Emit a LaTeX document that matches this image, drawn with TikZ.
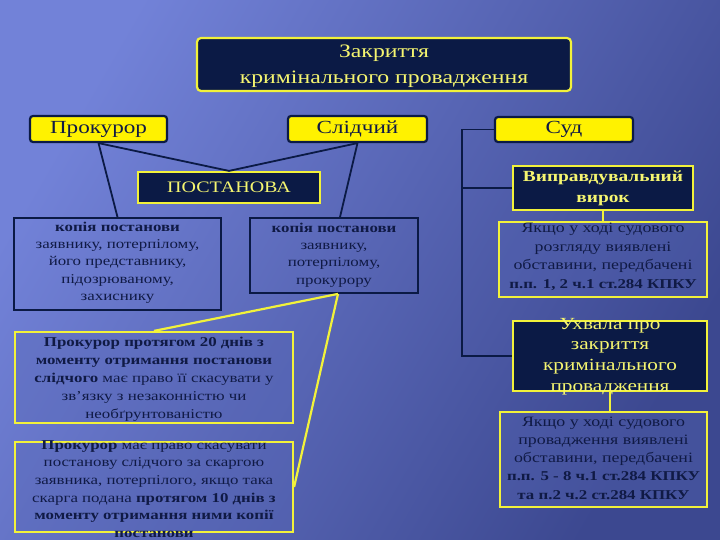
\documentclass[tikz,border=0pt]{standalone}
\usepackage{fontspec}
\setmainfont[FakeStretch=1.25]{Liberation Serif}
\definecolor{bgL}{HTML}{7282D8}
\definecolor{bgM}{HTML}{5564B6}
\definecolor{bgR}{HTML}{3C4890}
\definecolor{boxf}{HTML}{5565B5}
\definecolor{navy}{HTML}{0B1A45}
\definecolor{ink}{HTML}{101A45}
\definecolor{ylw}{HTML}{F2F23A}
\definecolor{ytext}{HTML}{F5F570}
\newcommand\fixtxt[3][0pt]{\smash{\raisebox{\dimexpr-4.5pt+#1\relax}{\makebox[0pt]{\smash{\parbox[c]{#2}{\centering #3}}}}}}
\begin{document}
\begin{tikzpicture}[x=1pt,y=-1pt,
  darkbox/.style={draw=ylw, line width=2.2pt, fill=navy, text=ytext, inner sep=0pt},
  ylwbox/.style={draw=navy, line width=2.2pt, fill=yellow, text=ink, rounded corners=3pt, inner sep=0pt},
  txtbox/.style={draw=ylw, line width=2.2pt, fill=boxf, fill opacity=0.35, text opacity=1, text=ink, inner sep=0pt},
  navybox/.style={draw=navy, line width=1.8pt, text=ink, inner sep=0pt},
  navyline/.style={draw=navy, line width=1.8pt},
  ylwline/.style={draw=ylw, line width=2.2pt}]
\useasboundingbox (0,0) rectangle (720,540);
\shade[left color=bgL, middle color=bgM, right color=bgR, shading angle=60] (0,0) rectangle (720,540);

% title
\node[darkbox, rounded corners=4pt, minimum width=374, minimum height=53] (title) at (384,64.5)
  {\fixtxt{370pt}{\fontsize{19}{26}\selectfont Закриття\\ кримінального провадження}};

% top row
\node[ylwbox, minimum width=137, minimum height=26] (prok) at (98.5,129) {\fontsize{18.5}{20}\selectfont Прокурор};
\node[ylwbox, minimum width=139, minimum height=26] (slid) at (357.5,129) {\fontsize{18.5}{20}\selectfont Слідчий};
\node[ylwbox, minimum width=138, minimum height=25] (sud) at (564,129.5) {\fontsize{18.5}{20}\selectfont Суд};

\node[darkbox, minimum width=182, minimum height=31] (post) at (229,187.5) {\fontsize{16}{18}\selectfont ПОСТАНОВА};

\node[navybox, minimum width=207, minimum height=92] (kop1) at (117.5,264)
  {\fixtxt[3.5pt]{230pt}{\fontsize{13.5}{17.3}\selectfont\textbf{копія постанови}\\ заявнику, потерпілому,\\ його представнику,\\ підозрюваному,\\ захиснику}};
\node[navybox, minimum width=168, minimum height=75] (kop2) at (334,255.5)
  {\fixtxt[2.5pt]{200pt}{\fontsize{13.5}{17.3}\selectfont\textbf{копія постанови}\\ заявнику,\\ потерпілому,\\ прокурору}};

\node[txtbox, minimum width=278, minimum height=91] (pr20) at (154,377.5)
  {\fixtxt{300pt}{\fontsize{13.5}{18}\selectfont\textbf{Прокурор протягом 20 днів з}\\ \textbf{моменту отримання постанови}\\ \textbf{слідчого} має право її скасувати у\\ зв'язку з незаконністю чи\\ необґрунтованістю}};
\node[txtbox, minimum width=278, minimum height=90] (pr10) at (154,487)
  {\fixtxt{300pt}{\fontsize{13.5}{17.6}\selectfont\textbf{Прокурор} має право скасувати\\ постанову слідчого за скаргою\\ заявника, потерпілого, якщо така\\ скарга подана \textbf{протягом 10 днів з}\\ \textbf{моменту отримання ними копії}\\ \textbf{постанови}}};

% right column
\node[darkbox, minimum width=180, minimum height=44] (vypr) at (603,188)
  {\fixtxt[2pt]{200pt}{\fontsize{15.5}{21}\selectfont\textbf{Виправдувальний}\\ \textbf{вирок}}};
\node[txtbox, minimum width=208, minimum height=75] (yak1) at (603,259.5)
  {\fixtxt[4.5pt]{240pt}{\fontsize{14.3}{18.5}\selectfont Якщо у ході судового\\ розгляду виявлені\\ обставини, передбачені\\ {\fontsize{13.5}{18.5}\selectfont\textbf{п.п. 1, 2 ч.1 ст.284 КПКУ}}}};
\node[darkbox, minimum width=194, minimum height=70] (uhv) at (610,356)
  {\fixtxt[1.5pt]{220pt}{\fontsize{17}{20.7}\selectfont Ухвала про\\ закриття\\ кримінального\\ провадження}};
\node[txtbox, minimum width=207, minimum height=95] (yak2) at (603.5,459.5)
  {\fixtxt[3.5pt]{240pt}{\fontsize{14.3}{18.3}\selectfont Якщо у ході судового\\ провадження виявлені\\ обставини, передбачені\\ {\fontsize{13.5}{19}\selectfont\textbf{п.п. 5 - 8 ч.1 ст.284 КПКУ}}\\ {\fontsize{13.5}{19}\selectfont\textbf{та п.2 ч.2 ст.284 КПКУ}}}};

% connectors
\draw[navyline] (prok.south) -- (post.north);
\draw[navyline] (slid.south) -- (post.north);
\draw[navyline] (prok.south) -- (kop1.north);
\draw[navyline] (slid.south) -- ([xshift=6pt]kop2.north);
\coordinate (ky) at ([xshift=4pt]kop2.south);
\draw[ylwline] (ky) -- (pr20.north);
\draw[ylwline] (ky) -- (pr10.east);
\coordinate (rt) at (462,129.5);
\draw[navyline] (sud.west) -- (rt) |- (uhv.west);
\draw[navyline] (vypr.west) -- (vypr.west -| rt);
\draw[ylwline] (vypr.south) -- (yak1.north);
\draw[ylwline] (uhv.south) -- (uhv.south |- yak2.north);
\end{tikzpicture}
\end{document}
